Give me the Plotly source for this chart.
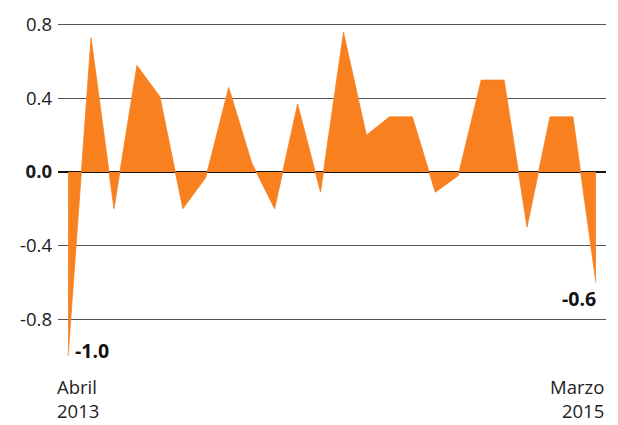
import plotly.graph_objects as go

months = ["Abr 2013", "May 2013", "Jun 2013", "Jul 2013", "Ago 2013", "Sep 2013",
          "Oct 2013", "Nov 2013", "Dic 2013", "Ene 2014", "Feb 2014", "Mar 2014",
          "Abr 2014", "May 2014", "Jun 2014", "Jul 2014", "Ago 2014", "Sep 2014",
          "Oct 2014", "Nov 2014", "Dic 2014", "Ene 2015", "Feb 2015", "Mar 2015"]
values = [-1.0, 0.73, -0.2, 0.58, 0.41, -0.2, -0.03, 0.46, 0.05, -0.2, 0.37, -0.11,
          0.76, 0.2, 0.3, 0.3, -0.11, -0.02, 0.5, 0.5, -0.3, 0.3, 0.3, -0.6]
tick_vals = [0.8, 0.4, 0.0, -0.4, -0.8]
tick_text = ["0.8", "0.4", "<b>0.0</b>", "-0.4", "-0.8"]
start_label = "Abril<br>2013"
end_label = "Marzo<br>2015"

ORANGE = "#f8801f"
BG = "#ffffff"
FONT = "Open Sans"

fig = go.Figure()
fig.add_trace(go.Scatter(
    x=months, y=values, mode="lines", fill="tozeroy",
    fillcolor=ORANGE, line=dict(color=ORANGE, width=0.8),
    hoverinfo="skip", showlegend=False,
))

fig.update_layout(
    width=618, height=425,
    margin=dict(l=58, r=12, t=20, b=65),
    paper_bgcolor=BG, plot_bgcolor=BG,
    font=dict(family=FONT, size=18, color="#1a1a1a"),
    xaxis=dict(type="category", range=[-0.44, 23.44], showgrid=False,
               showticklabels=False, zeroline=False, showline=False, fixedrange=True),
    yaxis=dict(range=[-1.023, 0.827], tickvals=tick_vals, ticktext=tick_text,
               showgrid=True, gridcolor="#555555", gridwidth=1.3,
               zeroline=True, zerolinecolor="#111111", zerolinewidth=2.2,
               layer="above traces", ticks="", ticklabelstandoff=5,
               tickfont=dict(family=FONT, size=18.5, color="#1a1a1a"),
               showline=False, fixedrange=True),
)

# value labels at first and last points
fig.add_annotation(x=months[0], y=values[0], text="<b>%.1f</b>" % values[0],
                   showarrow=False, xanchor="left", yanchor="middle",
                   xshift=5, yshift=5, font=dict(family=FONT, size=19.5, color="#111"))
fig.add_annotation(x=months[-1], y=values[-1], text="<b>%.1f</b>" % values[-1],
                   showarrow=False, xanchor="right", yanchor="middle",
                   xshift=2, yshift=-16, font=dict(family=FONT, size=19.5, color="#111"))

# start / end period labels
fig.add_annotation(x=months[0], y=0, yref="paper", text=start_label, showarrow=False,
                   xanchor="left", yanchor="top", align="left", xshift=-13, yshift=-12,
                   font=dict(family=FONT, size=18.5, color="#222"))
fig.add_annotation(x=months[-1], y=0, yref="paper", text=end_label, showarrow=False,
                   xanchor="right", yanchor="top", align="right", xshift=10, yshift=-12,
                   font=dict(family=FONT, size=18.5, color="#222"))

# drop the browser's default 8px body margin so the 618x425 figure fills the window
fig.write_html("out.html", config={"displayModeBar": False},
               post_script="document.body.style.margin='0';")
